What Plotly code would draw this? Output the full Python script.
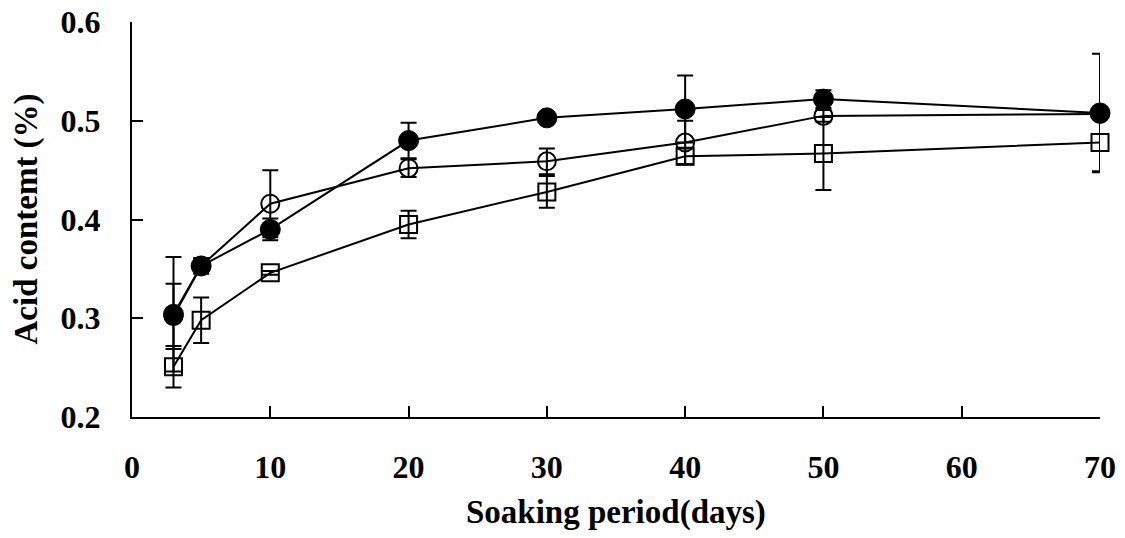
import plotly.graph_objects as go

days = [3, 5, 10, 20, 30, 40, 50, 70]

filled_vals = [0.304, 0.353, 0.390, 0.480, 0.503, 0.512, 0.522, 0.508]
filled_err = [0.058, 0.006, 0.011, 0.018, 0.004, 0.034, 0.009, 0.060]

open_vals = [0.302, 0.353, 0.416, 0.452, 0.459, 0.478, 0.505, 0.507]
open_err = [0.033, 0.008, 0.034, 0.009, 0.013, 0.022, 0.006, 0.004]

square_vals = [0.251, 0.298, 0.346, 0.395, 0.428, 0.464, 0.467, 0.478]
square_err = [0.021, 0.023, 0.002, 0.014, 0.016, 0.008, 0.037, 0.029]

x_ticks = [0, 10, 20, 30, 40, 50, 60, 70]
y_ticks = [0.2, 0.3, 0.4, 0.5, 0.6]

x_title = "Soaking period(days)"
y_title = "Acid contemt (%)"

FONT = "Liberation Serif"

W, H = 1125, 538
L, T = 132, 22
PW, PH = 968, 395

fig = go.Figure()


def add_series(vals, errs, symbol, size, lw):
    fig.add_trace(go.Scatter(
        x=days, y=vals,
        mode="lines+markers",
        line=dict(color="black", width=2),
        marker=dict(symbol=symbol, size=size, color="black",
                    line=dict(color="black", width=lw)),
        error_y=dict(type="data", array=errs, visible=True,
                     color="black", thickness=2, width=8),
        cliponaxis=False,
        showlegend=False,
    ))


add_series(square_vals, square_err, "square-open", 17, 2)
add_series(open_vals, open_err, "circle-open", 18, 2)
add_series(filled_vals, filled_err, "circle", 20, 1)

fig.update_layout(
    width=W, height=H,
    margin=dict(l=L, r=W - L - PW, t=T, b=H - T - PH),
    plot_bgcolor="white", paper_bgcolor="white",
    font=dict(family=FONT, color="black", size=32, weight="bold"),
)

fig.update_xaxes(
    range=[0, 70.0001], tickvals=x_ticks, ticktext=[str(v) for v in x_ticks],
    ticks="inside", ticklen=11, tickwidth=2, tickcolor="black",
    showline=True, linewidth=2, linecolor="black",
    showgrid=False, zeroline=False, automargin=False,
    tickfont=dict(family=FONT, size=32, weight="bold"),
    ticklabelstandoff=21,
)
fig.update_yaxes(
    range=[0.2, 0.6001], tickvals=y_ticks, ticktext=[f"{v:.1f}" for v in y_ticks],
    ticks="inside", ticklen=11, tickwidth=2, tickcolor="black",
    showline=True, linewidth=2, linecolor="black",
    showgrid=False, zeroline=False, automargin=False,
    tickfont=dict(family=FONT, size=32, weight="bold"),
    ticklabelstandoff=23,
)

fig.add_annotation(
    text=x_title, xref="paper", yref="paper",
    x=0.5, y=-(512 - 417) / PH, xanchor="center", yanchor="middle",
    showarrow=False, font=dict(family=FONT, size=33, weight="bold"),
)
fig.add_annotation(
    text=y_title, xref="paper", yref="paper",
    x=-(132 - 26) / PW, y=0.5, xanchor="center", yanchor="middle",
    textangle=-90, showarrow=False,
    font=dict(family=FONT, size=33, weight="bold"),
)

# remove the browser's default 8px body margin so the figure sits at the page origin
fig.write_html(
    "out.html",
    config={"displayModeBar": False},
    post_script="document.body.style.margin='0';",
)
